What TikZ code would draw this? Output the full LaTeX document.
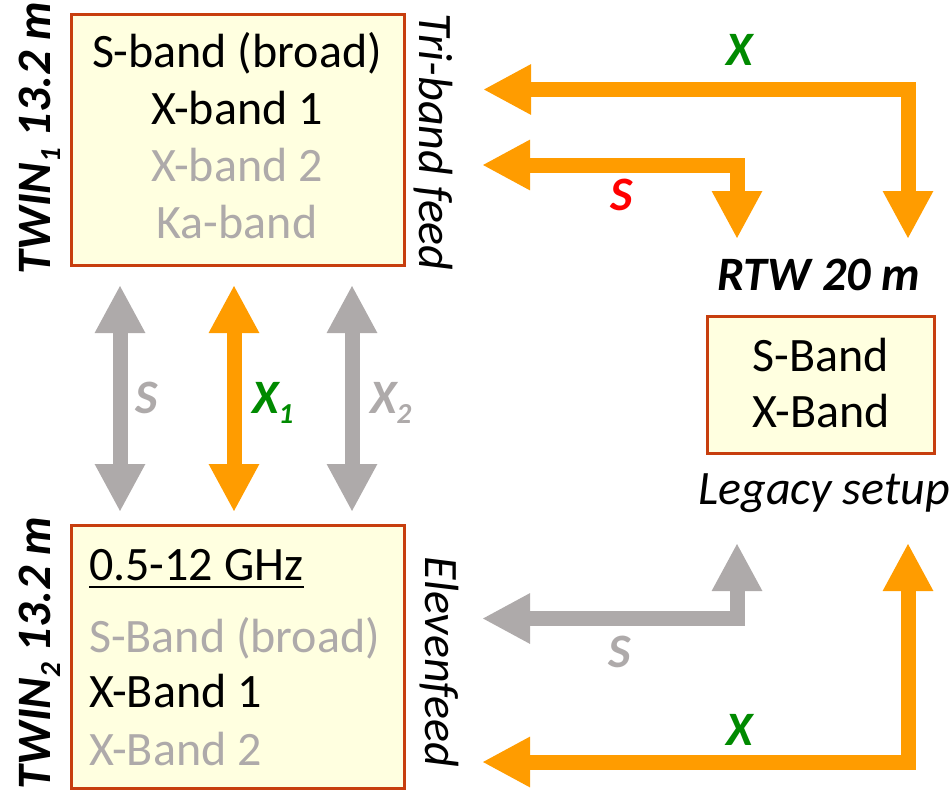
\documentclass[tikz,border=0pt]{standalone}
\usepackage{fontspec}
\setmainfont{Carlito}
\usetikzlibrary{arrows.meta}
\definecolor{arrorange}{HTML}{FF9C00}
\definecolor{arrgray}{HTML}{AEAAAA}
\definecolor{lblgreen}{HTML}{008A00}
\definecolor{lblred}{HTML}{FF0000}
\definecolor{boxedge}{HTML}{C73E0E}
\definecolor{boxfill}{HTML}{FFFFE0}
\definecolor{txtgray}{HTML}{AEAAAA}
\newcommand\lowsub[1]{\raisebox{-10pt}{\fontsize{29}{29}\selectfont #1}}
\begin{document}
\begin{tikzpicture}[x=1pt,y=-1pt,
  band/.style={inner sep=0pt, font=\fontsize{48}{56}\selectfont, anchor=base},
  bandl/.style={band, anchor=base west},
  bandbox/.style={draw=boxedge, fill=boxfill, line width=3.5pt, inner sep=0pt},
  tag/.style={inner sep=0pt, font=\fontsize{48}{56}\selectfont\bfseries\itshape, anchor=base},
  feedtag/.style={inner sep=0pt, font=\fontsize{48}{56}\selectfont\itshape, anchor=base},
  link/.style={line width=15pt, line join=miter, {Triangle[length=48pt,width=47pt]}-{Triangle[length=48pt,width=47pt]}},
]
\useasboundingbox (0,0) rectangle (949,792);

% boxes
\node[bandbox, minimum width=333pt, minimum height=251pt] (twin1) at (238,140) {};
\node[bandbox, minimum width=333pt, minimum height=263pt] (twin2) at (238,657) {};
\node[bandbox, minimum width=227pt, minimum height=137pt] (rtw) at (821,385) {};

% top box text
\node[band] (t1a) at (237,67) {S-band (broad)};
\node[band] (t1b) at (237,124) {X-band 1};
\node[band, text=txtgray] (t1c) at (237,181) {X-band 2};
\node[band, text=txtgray] (t1d) at (237,238) {Ka-band};

% bottom box text
\node[bandl] (t2a) at (89,580) {0.5-12 GHz};
\draw[line width=2pt] ([yshift=-7pt]t2a.base west) -- ([yshift=-7pt]t2a.base east);
\node[bandl, text=txtgray] (t2b) at (89,652) {S-Band (broad)};
\node[bandl] (t2c) at (89,707) {X-Band 1};
\node[bandl, text=txtgray] (t2d) at (89,765) {X-Band 2};

% RTW box text
\node[band] (ra) at (821,371) {S-Band};
\node[band] (rb) at (821,427) {X-Band};
\node[tag] (rtwlbl) at (819,290) {RTW 20 m};
\node[feedtag] (legacy) at (824,504) {Legacy setup};

% side labels
\node[tag, rotate=90] (twin1lbl) at (50,138) {TWIN\lowsub{1} 13.2 m};
\node[tag, rotate=90] (twin2lbl) at (50,653) {TWIN\lowsub{2} 13.2 m};
\node[feedtag, rotate=-90] (trifeed) at (419,142) {Tri-band feed};
\node[feedtag, rotate=-90] (elevenfeed) at (425,662) {Elevenfeed};

% arrow end points
\coordinate (vsTop) at (120,285);  \coordinate (vsBot) at (120,512);
\coordinate (vx1Top) at (234,285); \coordinate (vx1Bot) at (234,512);
\coordinate (vx2Top) at (352,285); \coordinate (vx2Bot) at (352,512);
\coordinate (triX) at (483,89.5);  \coordinate (rtwXin) at (908,239);
\coordinate (triS) at (482,165);   \coordinate (rtwSin) at (737,239);
\coordinate (elvS) at (482,618.5); \coordinate (rtwSout) at (737,543);
\coordinate (elvX) at (482,762);   \coordinate (rtwXout) at (908,543);

% vertical arrows
\draw[link, arrgray] (vsTop) -- (vsBot);
\draw[link, arrorange] (vx1Top) -- (vx1Bot);
\draw[link, arrgray] (vx2Top) -- (vx2Bot);
\node[tag, text=arrgray] (lblS) at (147,413) {S};
\node[tag, text=lblgreen, anchor=base west] (lblX1) at (252,413) {X\lowsub{1}};
\node[tag, text=arrgray, anchor=base west] (lblX2) at (370,413) {X\lowsub{2}};

% top-right arrows
\draw[link, arrorange] (triX) -| (rtwXin);
\draw[link, arrorange] (triS) -| (rtwSin);
\node[tag, text=lblgreen] (lblXtop) at (740,65) {X};
\node[tag, text=lblred] (lblStop) at (622,210) {S};

% bottom-right arrows
\draw[link, arrgray] (elvS) -| (rtwSout);
\draw[link, arrorange] (elvX) -| (rtwXout);
\node[tag, text=arrgray] (lblSbot) at (620,667) {S};
\node[tag, text=lblgreen] (lblXbot) at (740,745) {X};
\end{tikzpicture}
\end{document}
